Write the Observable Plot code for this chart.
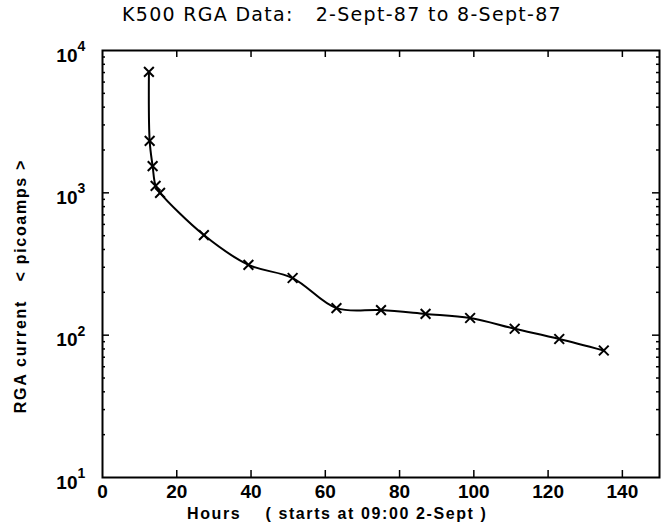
<!DOCTYPE html>
<html>
<head>
<meta charset="utf-8">
<script src="https://cdn.jsdelivr.net/npm/d3@7"></script>
<script src="https://cdn.jsdelivr.net/npm/@observablehq/plot@0.6"></script>
<style>
  html, body { margin: 0; padding: 0; background: #fff; }
  #wrap { position: relative; width: 662px; height: 525px; overflow: hidden; }
  #title { height: 30px; box-sizing: border-box; padding-left: 122px; padding-top: 3px;
           font-family: "DejaVu Sans", sans-serif; font-size: 19px; letter-spacing: 1.3px; white-space: pre; color: #000; }
  #xlabel { height: 21px; box-sizing: border-box; padding-left: 187px; padding-top: 1px;
            font-family: "Liberation Sans", "DejaVu Sans", sans-serif; font-weight: bold; font-size: 16px; letter-spacing: 1.6px; white-space: pre; color: #000; }
  svg { display: block; }
</style>
</head>
<body>
<div id="wrap">
  <div id="title">K500 RGA Data:   2-Sept-87 to 8-Sept-87</div>
  <div id="chart"></div>
  <div id="xlabel">Hours    ( starts at 09:00 2-Sept )</div>
</div>
<script>
// Data
const hours   = [12.5, 12.7, 13.5, 14.3, 15.5, 27.3, 39.3, 51.2, 63, 75, 87, 99, 111, 123, 135];
const current = [7080, 2320, 1540, 1120, 1000, 505, 312, 252, 155, 150, 141, 132, 111, 94, 78];

const xTicks = [0, 20, 40, 60, 80, 100, 120, 140];
const xInnerTicks = [20, 40, 60, 80, 100, 120, 140];
const yTicks = [10, 100, 1000, 10000];
const yExponents = ["1", "2", "3", "4"];
const yMajorInner = [100, 1000];
const yMinorInner = [20, 30, 40, 50, 60, 70, 80, 90, 200, 300, 400, 500, 600, 700, 800, 900, 2000, 3000, 4000, 5000, 6000, 7000, 8000, 9000];
const yLabel = "RGA current   < picoamps >";

const data = hours.map((h, i) => ({hours: h, current: current[i]}));

const W = 662, H = 474;
const mL = 102, mR = 3, mT = 20, mB = 27;
const fw = W - mL - mR, fh = H - mT - mB;
const majLen = 7, minLen = 3;
const tickFont = "Liberation Sans, DejaVu Sans, sans-serif";

const chart = Plot.plot({
  width: W, height: H,
  marginLeft: mL, marginRight: mR, marginTop: mT, marginBottom: mB,
  style: {background: "#fff", color: "#000"},
  x: {domain: [0, 150], axis: null},
  y: {type: "log", domain: [10, 10000], axis: null},
  marks: [
    // inward ticks: bottom & top
    Plot.tickX(xInnerTicks, {x: d => d, insetTop: fh - majLen, stroke: "#000", strokeWidth: 1.5}),
    Plot.tickX(xInnerTicks, {x: d => d, insetBottom: fh - majLen, stroke: "#000", strokeWidth: 1.5}),
    // inward ticks: left & right
    Plot.tickY(yMajorInner, {y: d => d, insetRight: fw - majLen, stroke: "#000", strokeWidth: 1.5}),
    Plot.tickY(yMinorInner, {y: d => d, insetRight: fw - minLen, stroke: "#000", strokeWidth: 1.5}),
    Plot.tickY(yMajorInner, {y: d => d, insetLeft: fw - majLen, stroke: "#000", strokeWidth: 1.5}),
    Plot.tickY(yMinorInner, {y: d => d, insetLeft: fw - minLen, stroke: "#000", strokeWidth: 1.5}),
    Plot.frame({stroke: "#000", strokeWidth: 2}),
    // x tick labels
    Plot.axisX(xTicks, {anchor: "bottom", tickSize: 0, tickPadding: 7, fontSize: 19, fontWeight: "bold", fontFamily: tickFont, label: null}),
    // y tick labels: 10 with superscript exponent
    Plot.text(yTicks, {y: d => d, frameAnchor: "left", text: () => "10", textAnchor: "end", dx: -25, dy: 5, fontSize: 19, fontWeight: "bold", fontFamily: tickFont}),
    Plot.text(yTicks, {y: d => d, frameAnchor: "left", text: (d, i) => yExponents[i], textAnchor: "start", dx: -25, dy: -4, fontSize: 14, fontWeight: "bold", fontFamily: tickFont}),
    // y axis label
    Plot.text([yLabel], {frameAnchor: "left", textAnchor: "middle", dx: -82, dy: 22, rotate: -90, fontSize: 16, fontWeight: "bold", fontFamily: tickFont, text: d => d}),
    // data
    Plot.line(data, {x: "hours", y: "current", curve: "catmull-rom", stroke: "#000", strokeWidth: 2}),
    Plot.dot(data, {x: "hours", y: "current", symbol: "times", r: 4.5, stroke: "#000", strokeWidth: 2})
  ]
});
chart.querySelectorAll("text").forEach(t => t.style.whiteSpace = "pre");
const lab = [...chart.querySelectorAll("text")].find(t => t.textContent === yLabel);
if (lab) lab.style.letterSpacing = "1.7px";
document.getElementById("chart").append(chart);
</script>
</body>
</html>
